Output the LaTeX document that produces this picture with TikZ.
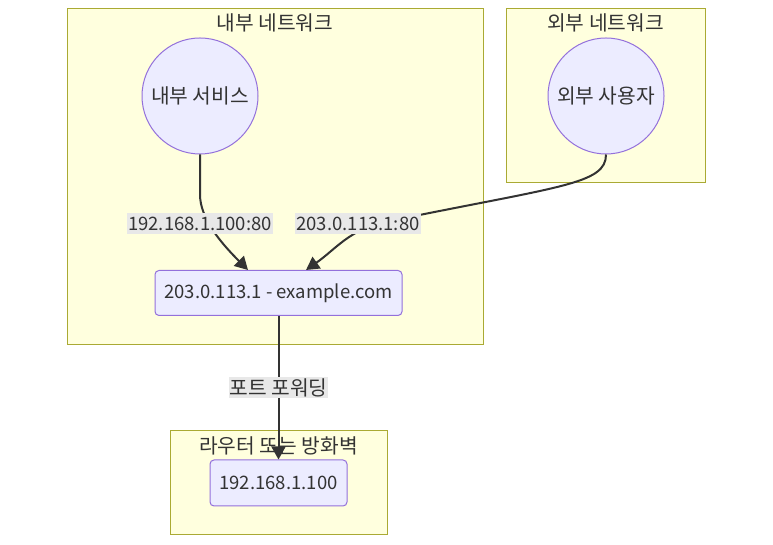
\documentclass[tikz,border=0pt]{standalone}
\usepackage{fontspec}
\setmainfont{Noto Sans CJK KR}
\usepackage{tikz}
\usetikzlibrary{positioning,arrows.meta,calc}
\definecolor{clusterfill}{HTML}{FFFFDE}
\definecolor{clusterline}{HTML}{AAAA33}
\definecolor{nodefill}{HTML}{ECECFF}
\definecolor{nodeline}{HTML}{9370DB}
\definecolor{edgeline}{HTML}{333333}
\definecolor{labelfill}{HTML}{E8E8E8}
\definecolor{textgray}{HTML}{333333}
\newcommand{\diagfont}{\fontsize{18.5pt}{22pt}\selectfont}
\newcommand{\hangulfont}{\fontsize{20.3pt}{24pt}\selectfont}
\tikzset{>={Triangle[length=13pt,width=14pt]}}
\tikzset{
    cluster/.style={rectangle,draw=clusterline,fill=clusterfill,line width=1pt,inner sep=0pt},
    clustertitle/.style={inner sep=0pt,font=\hangulfont,text=textgray},
    service/.style={circle,draw=nodeline,fill=nodefill,line width=1pt,minimum size=116pt,inner sep=0pt,font=\hangulfont,text=textgray},
    hostbox/.style={rectangle,rounded corners=4pt,draw=nodeline,fill=nodefill,line width=1pt,minimum height=45pt,inner sep=0pt,font=\diagfont,text=textgray},
    edgelabel/.style={rectangle,fill=labelfill,inner sep=1pt,minimum height=21pt,font=\diagfont,text=textgray},
    directed/.style={arrows={->},draw=edgeline,line width=2pt},
}
\begin{document}
\begin{tikzpicture}[x=1pt,y=1pt]
	\useasboundingbox (0,0) rectangle (773,545);

	\node[cluster,minimum width=416pt,minimum height=336pt] (inner) at (275,368) {};
	\node[cluster,minimum width=199pt,minimum height=174pt] (outer) at (605.5,449) {};
	\node[cluster,minimum width=217pt,minimum height=104pt] (router) at (278.5,62) {};
	\node[clustertitle] (innertitle) at ([yshift=-14pt]inner.north) {내부 네트워크};
	\node[clustertitle] (outertitle) at ([yshift=-14pt]outer.north) {외부 네트워크};
	\node[clustertitle] (routertitle) at ([yshift=-15pt]router.north) {라우터 또는 방화벽};

	\node[service] (svc) at (200,449) {내부 서비스};
	\node[service] (usr) at (606,449) {외부 사용자};
	\node[hostbox,minimum width=247pt] (pub) at (278.5,252) {203.0.113.1 - example.com};
	\node[hostbox,minimum width=137pt,minimum height=46pt] (priv) at (278.5,62) {192.168.1.100};

	\draw[directed] (svc.south) -- ++(0,-40) .. controls +(0,-25) and +(-25,25) .. ([xshift=-30.5pt]pub.north);
	\draw[directed] (usr.south) .. controls +(0,-30) and +(175,36) .. (385,323) to[out=192,in=35] ([xshift=27.5pt]pub.north);
	\draw[directed] (pub.south) -- (priv.north);

	\node[edgelabel] (lbl1) at (200,321) {192.168.1.100:80};
	\node[edgelabel] (lbl2) at (358,321) {203.0.113.1:80};
	\node[edgelabel,font=\hangulfont] (lbl3) at ($(pub.south)!0.5!(priv.north)$) {포트 포워딩};
\end{tikzpicture}
\end{document}
